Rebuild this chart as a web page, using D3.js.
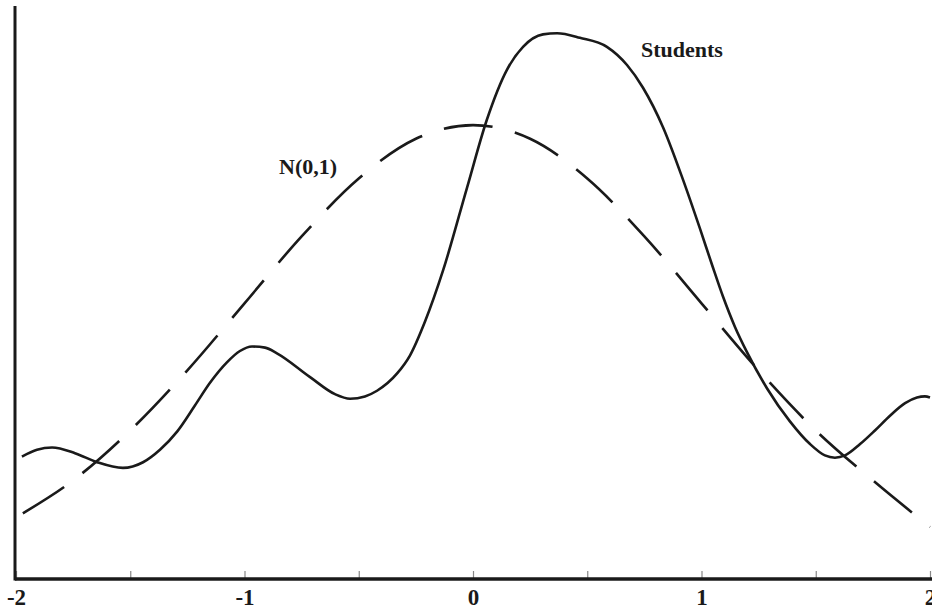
<!DOCTYPE html>
<html>
	<head>
		<meta charset="utf-8">
		<title>Students vs N(0,1)</title>
		<script src="https://d3js.org/d3.v7.min.js"></script>
		<style>
			html, body
			{
				margin: 0;
				background: #fff;
				overflow: hidden;
			}

			text
			{
				font-family: "Liberation Serif", "Times New Roman", serif;
				font-weight: bold;
				fill: #1a1a1a;
			}
		</style>
	</head>
	<body>
		<svg id="chart" width="932" height="609"></svg>

		<script>
			// values
			const studentX = [-1.974, -1.908, -1.842, -1.742, -1.645, -1.532, -1.444, -1.370, -1.295, -1.217, -1.151, -1.077, -1.020, -0.967, -0.910, -0.858, -0.713, -0.604, -0.538, -0.473, -0.420, -0.333, -0.276, -0.210, -0.131, -0.026, 0.061, 0.149, 0.219, 0.306, 0.368, 0.468, 0.586, 0.674, 0.744, 0.832, 0.919, 0.993, 1.046, 1.094, 1.147, 1.199, 1.287, 1.387, 1.475, 1.540, 1.584, 1.628, 1.694, 1.759, 1.825, 1.891, 1.943, 1.978, 2.0];
			const studentY = [0.107, 0.113, 0.115, 0.110, 0.102, 0.097, 0.102, 0.113, 0.129, 0.152, 0.172, 0.190, 0.200, 0.204, 0.203, 0.198, 0.177, 0.162, 0.158, 0.160, 0.165, 0.180, 0.196, 0.226, 0.271, 0.344, 0.404, 0.448, 0.468, 0.479, 0.480, 0.476, 0.468, 0.452, 0.432, 0.397, 0.351, 0.308, 0.276, 0.248, 0.221, 0.199, 0.167, 0.138, 0.118, 0.108, 0.106, 0.108, 0.118, 0.130, 0.143, 0.154, 0.159, 0.160, 0.159];

			const normX = [-1.97, -1.75, -1.5, -1.25, -1, -0.75, -0.5, -0.25, 0, 0.25, 0.5, 0.75, 1, 1.25, 1.5, 1.75, 2];
			const normY = [0.057, 0.086, 0.130, 0.183, 0.242, 0.301, 0.352, 0.387, 0.399, 0.387, 0.352, 0.301, 0.242, 0.183, 0.130, 0.086, 0.045];

			const tickValues = [-2, -1.5, -1, -0.5, 0, 0.5, 1, 1.5, 2];
			const tickLabels = ["-2", "", "-1", "", "0", "", "1", "", "2"];

			const svg = d3.select("#chart");

			let x = d3.scaleLinear().domain([-2, 2]).range([16, 930]);
			let y = d3.scaleLinear().domain([0, 0.504]).range([578, 6]);

			let line = d3.line()
				.x(d => x(d[0]))
				.y(d => y(d[1]))
				.curve(d3.curveMonotoneX);

			// N(0,1), dashed
			svg.append("path")
				.datum(d3.zip(normX, normY))
				.attr("d", line)
				.attr("fill", "none")
				.attr("stroke", "#1a1a1a")
				.attr("stroke-width", 2.6)
				.attr("stroke-dasharray", "49,23");

			// Students, solid
			svg.append("path")
				.datum(d3.zip(studentX, studentY))
				.attr("d", line)
				.attr("fill", "none")
				.attr("stroke", "#1a1a1a")
				.attr("stroke-width", 2.6);

			// x axis: small ticks and labels
			let xAxis = d3.axisBottom(x)
				.tickValues(tickValues)
				.tickSize(-7)
				.tickFormat((d, i) => tickLabels[i]);

			let gx = svg.append("g")
				.attr("transform", "translate(0," + y(0) + ")")
				.call(xAxis);

			gx.select(".domain").remove();
			gx.selectAll(".tick line")
				.attr("stroke", "#888")
				.attr("stroke-width", 1.2);
			gx.selectAll(".tick text")
				.attr("y", 27)
				.attr("dy", 0)
				.style("font-size", "23px")
				.style("font-family", "'Liberation Serif', serif")
				.style("font-weight", "bold")
				.attr("fill", "#1a1a1a");

			// axis lines
			svg.append("line")
				.attr("x1", 15).attr("x2", 932)
				.attr("y1", y(0) + 1).attr("y2", y(0) + 1)
				.attr("stroke", "#1a1a1a")
				.attr("stroke-width", 3.5);

			svg.append("line")
				.attr("x1", 15).attr("x2", 15)
				.attr("y1", 6).attr("y2", y(0) + 2.5)
				.attr("stroke", "#1a1a1a")
				.attr("stroke-width", 3);

			// curve labels
			svg.append("text")
				.attr("x", 279)
				.attr("y", 174)
				.style("font-size", "22px")
				.text("N(0,1)");

			svg.append("text")
				.attr("x", 641)
				.attr("y", 57)
				.style("font-size", "22px")
				.text("Students");
		</script>
	</body>
</html>
